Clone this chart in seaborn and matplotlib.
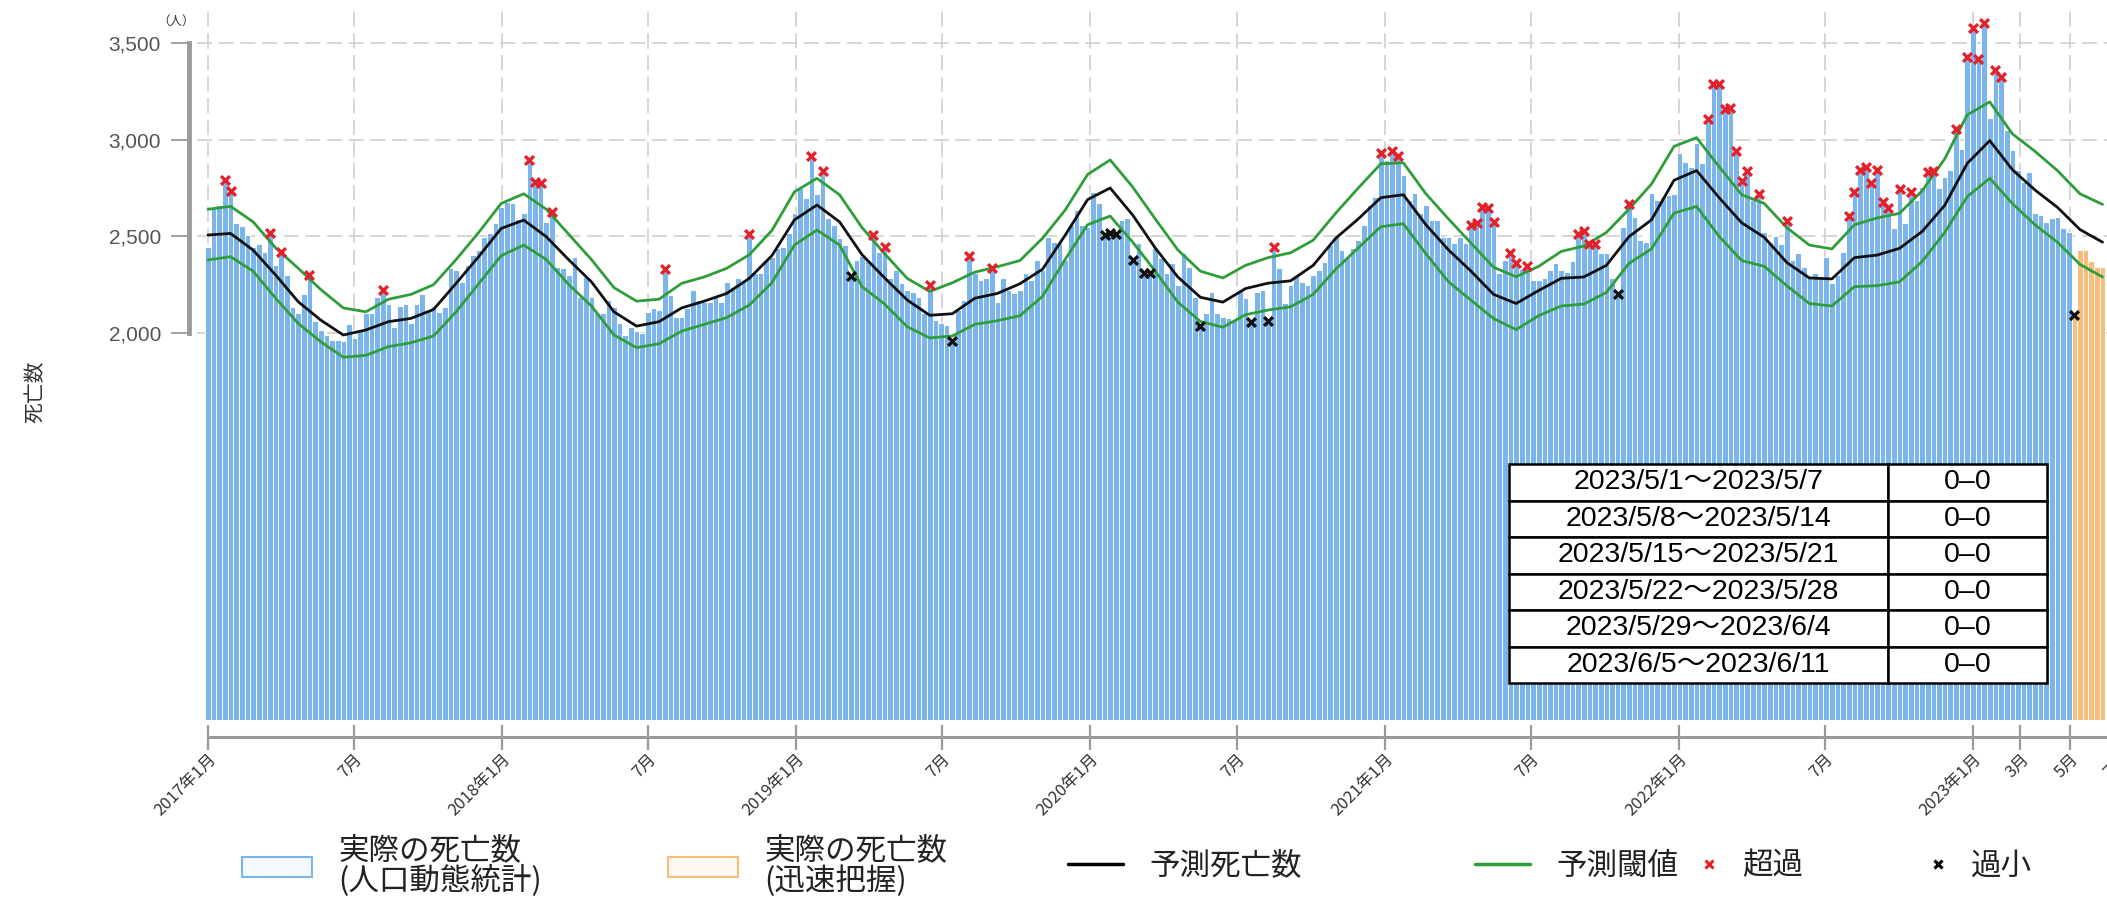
import numpy as np
import pandas as pd
import matplotlib
matplotlib.use("Agg")
import matplotlib.pyplot as plt
import matplotlib.dates as mdates
from matplotlib.lines import Line2D
from matplotlib.patches import Patch
import seaborn as sns

# ---------------------------------------------------------------- data
# weekly deaths, week ending on the given Sunday (first week ends 2017-01-01)
deaths_vital = [
    2447, 2650, 2660, 2790, 2735, 2570, 2553, 2507, 2447, 2460,
    2420, 2515, 2350, 2420, 2300, 2136, 2102, 2202, 2300, 2064,
    2016, 1990, 1964, 1965, 1960, 2047, 1972, 2016, 2105, 2105,
    2188, 2222, 2150, 2030, 2140, 2150, 2050, 2150, 2200, 2120,
    2140, 2110, 2136, 2334, 2326, 2265, 2352, 2403, 2430, 2498,
    2515, 2567, 2653, 2680, 2670, 2590, 2620, 2895, 2783, 2774,
    2576, 2628, 2343, 2334, 2300, 2395, 2188, 2290, 2188, 2102,
    2102, 2170, 2136, 2050, 1990, 2033, 2010, 2000, 2110, 2128,
    2120, 2331, 2197, 2084, 2084, 2128, 2222, 2171, 2162, 2162,
    2188, 2162, 2265, 2240, 2283, 2274, 2512, 2309, 2309, 2378,
    2395, 2438, 2447, 2515, 2620, 2750, 2700, 2915, 2720, 2840,
    2593, 2558, 2490, 2455, 2295, 2378, 2400, 2380, 2507, 2420,
    2447, 2283, 2326, 2257, 2222, 2214, 2188, 2102, 2248, 2067,
    2050, 2040, 1959, 2119, 2171, 2400, 2309, 2274, 2283, 2338,
    2162, 2283, 2222, 2205, 2222, 2309, 2274, 2378, 2326, 2498,
    2472, 2464, 2378, 2558, 2636, 2558, 2550, 2731, 2670, 2507,
    2515, 2512, 2584, 2593, 2378, 2464, 2312, 2309, 2438, 2386,
    2309, 2360, 2250, 2412, 2343, 2188, 2036, 2102, 2214, 2102,
    2084, 2076, 2067, 2222, 2179, 2059, 2214, 2222, 2062, 2447,
    2334, 2153, 2248, 2300, 2265, 2248, 2300, 2326, 2369, 2455,
    2498, 2429, 2395, 2438, 2481, 2558, 2662, 2705, 2929, 2895,
    2943, 2915, 2817, 2688, 2722, 2619, 2662, 2584, 2584, 2498,
    2498, 2464, 2498, 2464, 2558, 2570, 2650, 2645, 2576, 2310,
    2380, 2412, 2364, 2330, 2346, 2274, 2274, 2283, 2326, 2360,
    2326, 2317, 2370, 2510, 2530, 2460, 2460, 2412, 2412, 2283,
    2200, 2550, 2665, 2602, 2481, 2472, 2722, 2688, 2705, 2714,
    2720, 2930, 2886, 2860, 2980, 2880, 3107, 3290, 3290, 3157,
    3162, 2941, 2786, 2840, 2688, 2719, 2520, 2470, 2500, 2460,
    2579, 2378, 2412, 2343, 2291, 2309, 2291, 2395, 2260, 2300,
    2420, 2605, 2727, 2843, 2860, 2778, 2843, 2679, 2645, 2541,
    2743, 2567, 2731, 2688, 2757, 2834, 2840, 2748, 2808, 2843,
    3053, 2950, 3426, 3576, 3415, 3602, 3110, 3360, 3326, 3050,
    2946, 2843, 2780, 2834, 2619, 2610, 2576, 2593, 2602, 2541,
    2520,
]
# rapid (preliminary) counts for the latest six weeks
deaths_rapid = [2093, 2429, 2429, 2370, 2343, 2340]

# predicted deaths and threshold band, every 4th week
predicted = [
    2507, 2515, 2429, 2300, 2162, 2067, 1990, 2016, 2059, 2076,
    2122, 2257, 2395, 2541, 2584, 2498, 2378, 2265, 2110, 2036,
    2059, 2130, 2165, 2205, 2283, 2400, 2585, 2662, 2575, 2405,
    2285, 2171, 2092, 2100, 2180, 2205, 2255, 2330, 2505, 2690,
    2750, 2610, 2440, 2290, 2185, 2160, 2230, 2258, 2270, 2350,
    2490, 2590, 2700, 2715, 2560, 2430, 2320, 2200, 2153, 2220,
    2283, 2290, 2350, 2498, 2585, 2790, 2840, 2700, 2570, 2495,
    2365, 2285, 2280, 2390, 2403, 2438, 2525, 2660, 2877, 2995,
    2845, 2740, 2650, 2535, 2470,
]
upper = [
    2640, 2655, 2575, 2440, 2335, 2225, 2130, 2110, 2175, 2200,
    2250, 2380, 2520, 2670, 2720, 2640, 2510, 2380, 2235, 2165,
    2175, 2257, 2290, 2335, 2405, 2530, 2730, 2800, 2715, 2545,
    2410, 2283, 2215, 2260, 2315, 2343, 2375, 2490, 2635, 2820,
    2895, 2755, 2590, 2430, 2320, 2285, 2350, 2390, 2415, 2480,
    2620, 2750, 2875, 2880, 2720, 2590, 2465, 2340, 2291, 2345,
    2422, 2450, 2520, 2640, 2770, 2965, 3010, 2860, 2715, 2670,
    2545, 2455, 2435, 2560, 2595, 2619, 2735, 2900, 3128, 3195,
    3030, 2940, 2840, 2720, 2665,
]
lower = [
    2378, 2395, 2320, 2180, 2050, 1955, 1875, 1885, 1930, 1950,
    1985, 2110, 2255, 2400, 2455, 2380, 2250, 2140, 1990, 1925,
    1945, 2010, 2045, 2080, 2145, 2260, 2455, 2533, 2455, 2240,
    2150, 2033, 1975, 1985, 2045, 2064, 2090, 2190, 2380, 2560,
    2605, 2470, 2320, 2160, 2060, 2030, 2095, 2119, 2136, 2200,
    2330, 2440, 2550, 2565, 2410, 2265, 2170, 2075, 2018, 2090,
    2140, 2150, 2210, 2360, 2435, 2620, 2655, 2500, 2375, 2345,
    2245, 2153, 2140, 2240, 2245, 2265, 2370, 2520, 2705, 2800,
    2670, 2560, 2470, 2355, 2290,
]

# weeks (0 = week ending 2017-01-01) flagged above / below the band
excess_weeks = [3, 4, 11, 13, 18, 31, 57, 58, 59, 61, 81, 96, 107, 109, 118,
                120, 128, 135, 139, 189, 208, 210, 211, 224, 225, 226, 227,
                228, 231, 232, 234, 243, 244, 245, 246, 252, 266, 267, 268,
                269, 270, 271, 272, 273, 275, 280, 291, 292, 293, 294, 295,
                296, 297, 298, 300, 302, 305, 306, 310, 312, 313, 314, 315,
                317, 318]
deficit_weeks = [114, 132, 159, 160, 161, 164, 166, 167, 176, 185, 188, 250,
                 331]

tick_dates = ["2017-01-01", "2017-07-01", "2018-01-01", "2018-07-01",
              "2019-01-01", "2019-07-01", "2020-01-01", "2020-07-01",
              "2021-01-01", "2021-07-01", "2022-01-01", "2022-07-01",
              "2023-01-01", "2023-03-01", "2023-05-01", "2023-07-01"]
tick_labels = ["2017年1月", "7月", "2018年1月", "7月", "2019年1月", "7月",
               "2020年1月", "7月", "2021年1月", "7月", "2022年1月", "7月",
               "2023年1月", "3月", "5月", "7月"]
y_ticks = [2000, 2500, 3000, 3500]

table_periods = ["2023/5/1～2023/5/7", "2023/5/8～2023/5/14",
                 "2023/5/15～2023/5/21", "2023/5/22～2023/5/28",
                 "2023/5/29～2023/6/4", "2023/6/5～2023/6/11"]
table_ranges = ["0–0", "0–0", "0–0", "0–0", "0–0", "0–0"]

legend_labels = ["実際の死亡数\n(人口動態統計)", "実際の死亡数\n(迅速把握)",
                 "予測死亡数", "予測閾値", "超過", "過小"]

# ---------------------------------------------------------------- style
sns.set_theme(style="white")
plt.rcParams["font.family"] = ["Noto Sans CJK JP", "DejaVu Sans"]
NUM_FONT = ["Liberation Sans", "Noto Sans CJK JP", "DejaVu Sans"]

BLUE = "#7cb5ec"
ORANGE = "#f7bd7c"
GREEN = "#2f9e3a"
RED = "#e3212b"

W, H = 2107, 897
fig = plt.figure(figsize=(W / 100, H / 100), dpi=100)

origin = pd.Timestamp("2017-01-01")
px_per_day = 0.8055
left_px, right_px, top_px, bottom_px = 197, 2140, 10, 720
ax = fig.add_axes([left_px / W, 1 - bottom_px / H,
                   (right_px - left_px) / W, (bottom_px - top_px) / H])
xlim = (origin + pd.Timedelta(days=(left_px - 208) / px_per_day),
        origin + pd.Timedelta(days=(right_px - 208) / px_per_day))

n_total = len(deaths_vital) + len(deaths_rapid)
week_end = pd.date_range("2017-01-01", periods=n_total, freq="7D")
all_deaths = np.array(deaths_vital + deaths_rapid, dtype=float)
nv = len(deaths_vital)

# bars
ax.bar(week_end[:nv], deaths_vital, width=7.0, color=BLUE,
       edgecolor="white", linewidth=0.7, zorder=2)
ax.bar(week_end[nv:], deaths_rapid, width=7.0, color=ORANGE,
       edgecolor="white", linewidth=0.7, zorder=2)

# prediction lines
line_df = pd.DataFrame({"date": week_end[::4], "pred": predicted,
                        "upper": upper, "lower": lower})
sns.lineplot(data=line_df, x="date", y="upper", color=GREEN, lw=2.0,
             ax=ax, zorder=4)
sns.lineplot(data=line_df, x="date", y="lower", color=GREEN, lw=2.0,
             ax=ax, zorder=4)
sns.lineplot(data=line_df, x="date", y="pred", color="#111111", lw=2.0,
             ax=ax, zorder=5)

# flagged weeks
sns.scatterplot(x=week_end[excess_weeks], y=all_deaths[excess_weeks],
                marker="x", color=RED, s=40, linewidth=2.4, ax=ax, zorder=6)
sns.scatterplot(x=week_end[deficit_weeks], y=all_deaths[deficit_weeks],
                marker="x", color="#111111", s=40, linewidth=2.4, ax=ax,
                zorder=6)

ax.set_xlim(*xlim)
ax.set_ylim(0, 3670)
ax.set_xlabel("")
ax.set_ylabel("")

# spines
for s in ("top", "right"):
    ax.spines[s].set_visible(False)
tick_ts = pd.to_datetime(tick_dates)
ax.spines["left"].set_position(("outward", 6))
ax.spines["left"].set_bounds(2000, 3500)
ax.spines["left"].set_color("#9a9a9a")
ax.spines["left"].set_linewidth(3.5)
ax.spines["bottom"].set_position(("outward", 12))
ax.spines["bottom"].set_bounds(mdates.date2num(tick_ts[0]),
                               mdates.date2num(xlim[1]))
ax.spines["bottom"].set_color("#9a9a9a")
ax.spines["bottom"].set_linewidth(2.2)

# ticks
ax.tick_params(axis="y", which="both", left=True, length=13, width=1.3,
               color="#9a9a9a", pad=7, labelsize=15, labelcolor="#555555")
ax.tick_params(axis="x", which="both", bottom=True, length=18, width=1.6,
               color="#9a9a9a", direction="inout", pad=1,
               labelcolor="#333333")
ax.set_xticks(tick_ts)
ax.set_xticklabels(tick_labels)
ax.set_yticks(y_ticks)
ax.set_yticklabels([f"{v:,}" for v in y_ticks])
for lab in ax.get_xticklabels():
    lab.set_rotation(45)
    lab.set_ha("right")
    lab.set_rotation_mode("anchor")
    lab.set_fontsize(12)
    lab.set_color("#333333")
for lab in ax.get_yticklabels():
    lab.set_fontfamily(NUM_FONT)
    lab.set_fontsize(15)

ax.grid(True, axis="both", color="#cfcfcf", lw=1.2, linestyle=(0, (9, 4)))
ax.set_axisbelow(True)

# unit and axis title
fig.text(176 / W, 1 - 21 / H, "（人）", fontsize=9, ha="center",
         va="center", color="#333333")
fig.text(36 / W, 1 - 392 / H, "死亡数", fontsize=15, rotation=90,
         ha="center", va="center", color="#333333")

# summary table
tl, tr, tt, tb = 1509, 2047, 464, 683
tax = fig.add_axes([tl / W, 1 - tb / H, (tr - tl) / W, (tb - tt) / H])
tax.axis("off")
cells = [[p, r] for p, r in zip(table_periods, table_ranges)]
col_split = (1888 - tl) / (tr - tl)
tbl = tax.table(cellText=cells, colWidths=[col_split, 1 - col_split],
                cellLoc="center", bbox=[0, 0, 1, 1])
tbl.auto_set_font_size(False)
for (r, c), cell in tbl.get_celld().items():
    cell.set_edgecolor("black")
    cell.set_linewidth(1.8)
    cell.set_facecolor("white")
    cell.get_text().set_fontsize(20.5)
    cell.get_text().set_fontfamily(NUM_FONT)
    cell.get_text().set_color("black")

# legend, one entry per block along the bottom
handles = [
    Patch(facecolor="#f4f9fd", edgecolor=BLUE, linewidth=1.5),
    Patch(facecolor="#fdf8f2", edgecolor=ORANGE, linewidth=1.5),
    Line2D([], [], color="black", lw=2.5),
    Line2D([], [], color=GREEN, lw=2.5),
    Line2D([], [], color=RED, marker="x", lw=0, markersize=6, mew=2.2),
    Line2D([], [], color="black", marker="x", lw=0, markersize=6, mew=2.2),
]
legend_x = [242, 668, 1068, 1475, 1701, 1930]
hlen = [2.3, 2.3, 1.8, 1.8, 0.5, 0.5]
for h, lab, x, hl in zip(handles, legend_labels, legend_x, hlen):
    leg = fig.legend(handles=[h], labels=[lab], loc="center left",
                     bbox_to_anchor=(x / W, 1 - 866 / H), frameon=False,
                     fontsize=22, handlelength=hl, handleheight=0.62,
                     handletextpad=0.85, borderpad=0, borderaxespad=0,
                     labelspacing=0)
    for t in leg.get_texts():
        t.set_color("#222222")
        t.set_linespacing(0.95)

fig.savefig("out.png", dpi=100)
